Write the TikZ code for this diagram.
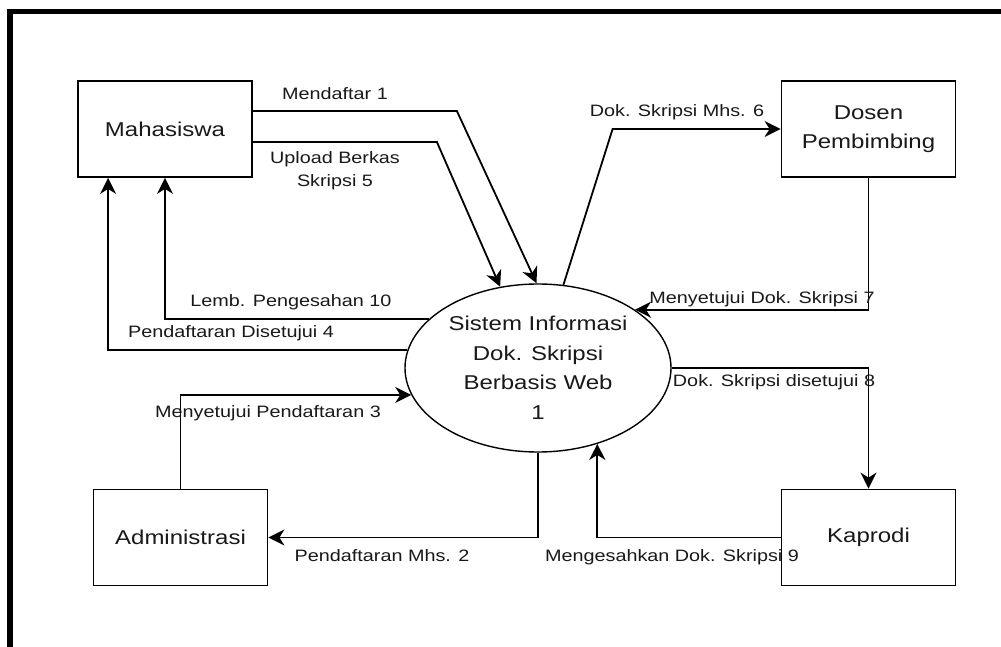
\documentclass[tikz,border=0pt]{standalone}
\usepackage{fontspec}
\newfontfamily\lf[FakeStretch=1.2]{Liberation Sans}
\usetikzlibrary{shapes.geometric,arrows.meta}
\definecolor{txt}{RGB}{25,25,25}
\begin{document}
\begin{tikzpicture}[x=1pt,y=-1pt,
  ent/.style={draw,line width=1.8pt,rectangle,minimum width=174pt,minimum height=96pt,inner sep=0pt,align=center,text=txt,font=\lf\fontsize{20}{29}\selectfont},
  proc/.style={draw,line width=1.4pt,ellipse,minimum width=266pt,minimum height=168pt,inner sep=0pt,align=center,text=txt,font=\lf\fontsize{20}{29.5}\selectfont},
  flow/.style={line width=1.8pt,-{Stealth[length=16pt,width=16pt,inset=5pt]}},
  lbl/.style={inner sep=0pt,align=center,text=txt,font=\lf\fontsize{16.5}{23}\selectfont}]
\useasboundingbox (0,0) rectangle (1001,647);
\fill[white] (0,0) rectangle (1001,647);
\draw[line width=5.5pt] (10,647) -- (10,11.5) -- (1001,11.5);

\node[ent] (Ms) at (165,129) {Mahasiswa};
\node[ent] (Dos) at (868.5,129) {Dosen\\Pembimbing};
\node[ent] (Ad) at (180.5,537.5) {Administrasi};
\node[ent] (Kp) at (868.5,537.5) {Kaprodi};
\node[proc] (sys) at (538,368) {Sistem Informasi\\Dok. Skripsi\\Berbasis Web\\1};

\draw[flow] ([yshift=18pt]Ms.east) -- ++(204,0) -- (sys.91);
\draw[flow] ([yshift=-13pt]Ms.east) -- ++(184,0) -- (sys.115);
\draw[flow] (sys.73.2) -- ([xshift=-168pt]Dos.west) -- (Dos.west);
\draw[flow] (Dos.south) |- (sys.31.1);
\draw[flow] (sys.east) -| (Kp.north);
\draw[flow] (Kp.west) -| (sys.308.2);
\draw[flow] (sys.south) |- (Ad.east);
\draw[flow] (Ad.north) |- (sys.192.6);
\draw[flow] (sys.156.9) -| (Ms.south);
\draw[flow] (sys.172.6) -| ([xshift=31pt]Ms.south west);

\node[lbl] (l1) at (335,94) {Mendaftar 1};
\node[lbl] (l5) at (335,171) {Upload Berkas\\Skripsi 5};
\node[lbl] (l6) at (677,112) {Dok. Skripsi Mhs. 6};
\node[lbl] (l7) at (762,299) {Menyetujui Dok. Skripsi 7};
\node[lbl] (l8) at (774,382) {Dok. Skripsi disetujui 8};
\node[lbl] (l9) at (672,557) {Mengesahkan Dok. Skripsi 9};
\node[lbl] (l2) at (382,556) {Pendaftaran Mhs. 2};
\node[lbl] (l3) at (268,413) {Menyetujui Pendaftaran 3};
\node[lbl] (l10) at (291,302) {Lemb. Pengesahan 10};
\node[lbl] (l4) at (231,333) {Pendaftaran Disetujui 4};
\end{tikzpicture}
\end{document}
